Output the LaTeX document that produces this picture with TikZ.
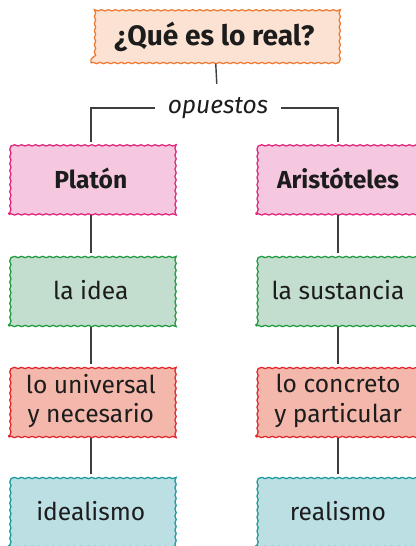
\documentclass[tikz,border=0pt]{standalone}
\usepackage{fontspec}
\setmainfont{Fira Sans}
\usetikzlibrary{decorations.pathmorphing}

\definecolor{peach}{HTML}{FBE2D2}
\definecolor{peachline}{HTML}{EE7A30}
\definecolor{rosa}{HTML}{F5C8E0}
\definecolor{rosaline}{HTML}{E0247C}
\definecolor{verde}{HTML}{C3DDCF}
\definecolor{verdeline}{HTML}{1F9A3E}
\definecolor{salmon}{HTML}{F3B7AB}
\definecolor{salmonline}{HTML}{E2262A}
\definecolor{cian}{HTML}{BCDFE4}
\definecolor{cianline}{HTML}{1B9A9C}
\definecolor{tinta}{HTML}{1C1C1C}

\begin{document}
\begin{tikzpicture}[
  box/.style={rectangle, draw, line width=0.9pt, text=tinta, align=center,
    minimum width=4.1cm, minimum height=1.8cm,
    font=\fontsize{17.5}{21}\selectfont,
    decorate, decoration={snake, amplitude=0.45pt, segment length=5pt}},
  every edge/.style={draw, tinta!85, line width=1pt}
]
\clip (0,0) rectangle (10.4,-13.65);

\node (real) at (5.36,-0.925) [box, fill=peach, draw=peachline, minimum width=6.175cm, minimum height=1.3cm, font=\fontsize{20}{24}\selectfont\bfseries] {¿Qué es lo real?};
\node (op) at (5.45,-2.7) [inner xsep=0.32cm, inner ysep=0.33cm, text=tinta, font=\fontsize{17.5}{21}\selectfont\itshape] {opuestos} edge[-] (real);

\node (platon) at (2.27,-4.46) [box, fill=rosa, draw=rosaline, font=\fontsize{17.5}{21}\selectfont\bfseries] {Platón};
\node (aristoteles) at (8.45,-4.46) [box, fill=rosa, draw=rosaline, font=\fontsize{17.5}{21}\selectfont\bfseries] {Aristóteles};
\draw[tinta!85, line width=1pt] (op.west) -| (platon);
\draw[tinta!85, line width=1pt] (op.east) -| (aristoteles);

\node (idea) at (2.27,-7.25) [box, fill=verde, draw=verdeline] {la idea} edge[-] (platon);
\node (sustancia) at (8.45,-7.25) [box, fill=verde, draw=verdeline] {la sustancia} edge[-] (aristoteles);

\node (universal) at (2.27,-10.025) [box, fill=salmon, draw=salmonline] {lo universal\\y necesario} edge[-] (idea);
\node (concreto) at (8.45,-10.025) [box, fill=salmon, draw=salmonline] {lo concreto\\y particular} edge[-] (sustancia);

\node (idealismo) at (2.27,-12.775) [box, fill=cian, draw=cianline] {idealismo} edge[-] (universal);
\node (realismo) at (8.45,-12.775) [box, fill=cian, draw=cianline] {realismo} edge[-] (concreto);
\end{tikzpicture}
\end{document}
